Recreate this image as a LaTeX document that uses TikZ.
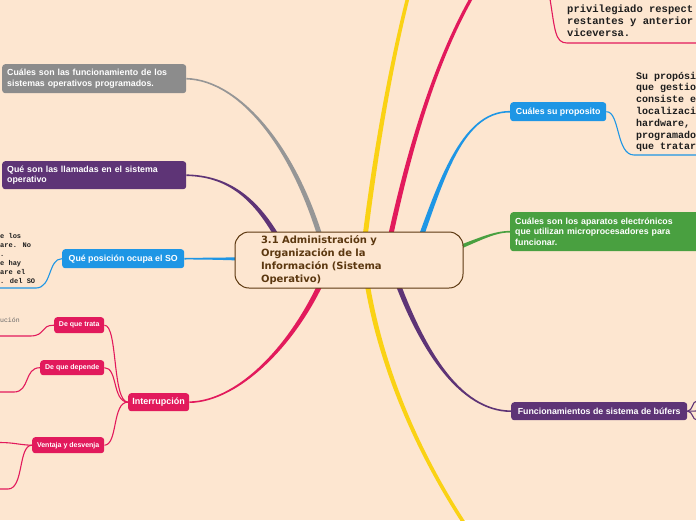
\documentclass[tikz,border=0pt]{standalone}
\usepackage{fontspec}
\setmainfont{Liberation Sans}
\newfontfamily\hubfont{DejaVu Sans}
\newfontfamily\monof{Liberation Mono}
\usetikzlibrary{calc}
\definecolor{bgc}{RGB}{253,230,208}
\definecolor{grayc}{RGB}{140,140,140}
\definecolor{graylc}{RGB}{150,150,150}
\definecolor{purc}{RGB}{94,52,118}
\definecolor{bluec}{RGB}{30,150,229}
\definecolor{pinkc}{RGB}{226,26,92}
\definecolor{greenc}{RGB}{73,160,64}
\definecolor{yelc}{RGB}{250,210,20}
\definecolor{brownc}{RGB}{92,56,16}
\definecolor{txtc}{RGB}{30,30,30}
\pgfdeclarelayer{lines}
\pgfsetlayers{lines,main}
% tapered branch: #1 colour, #2 start, #3 ctrl1, #4 ctrl2, #5 end, #6 start half width, #7 end half width
\newcommand\branchshape[7]{%
  \fill[#1] ($(#2)!#6!90:(#3)$) .. controls ($(#3)!#6!-90:(#2)$) and ($(#4)!#7!90:(#5)$) .. ($(#5)!#7!-90:(#4)$)
    -- ($(#5)!#7!90:(#4)$) .. controls ($(#4)!#7!-90:(#5)$) and ($(#3)!#6!90:(#2)$) .. ($(#2)!#6!-90:(#3)$) -- cycle;}
\begin{document}
\begin{tikzpicture}[x=1pt,y=-1pt,
  box/.style={draw=none, rounded corners=3pt, anchor=north west, inner xsep=5pt, inner ysep=0pt,
    text=white, font=\fontsize{8.8}{10.8}\selectfont\bfseries, align=left},
  obox/.style={draw=none, rounded corners=3pt, anchor=north west, inner xsep=0pt, inner ysep=0pt,
    text=white, font=\fontsize{8.8}{10.8}\selectfont\bfseries, align=center},
  sbox/.style={obox, font=\fontsize{7}{8}\selectfont\bfseries},
  thinl/.style={line width=1.1pt},
  monor/.style={font=\monof\bfseries\fontsize{10}{12}\selectfont, anchor=base west, inner sep=0pt, text=txtc},
  monot/.style={font=\monof\bfseries\fontsize{10.5}{12}\selectfont, anchor=base west, inner sep=0pt, text=txtc},
  monol/.style={font=\monof\bfseries\fontsize{7}{9}\selectfont, anchor=base west, inner sep=0pt, text=txtc},
]
\useasboundingbox (0,0) rectangle (696,520);

% ---------- nodes ----------
\node[draw=brownc, line width=1pt, fill=bgc, rounded corners=14pt, text=brownc,
  font=\hubfont\bfseries\fontsize{10}{12.7}\selectfont, text width=176pt, inner xsep=26pt,
  inner ysep=0pt, minimum height=56pt, align=left] (hub) at (349,260)
  {3.1 Administración y\\Organización de la\\Información (Sistema\\Operativo)};

\node[box, fill=grayc, text width=174pt, minimum height=29pt] (gray) at (2,64)
  {Cuáles son las funcionamiento de los\\sistemas operativos programados.};
\node[box, fill=purc, text width=174pt, minimum height=28pt] (llam) at (2,161)
  {Qué son las llamadas en el sistema\\operativo};
\node[obox, fill=bluec, minimum width=122pt, minimum height=19pt] (pos) at (62,249)
  {Qué posición ocupa el SO};
\node[obox, fill=pinkc, font=\fontsize{9}{10.8}\selectfont\bfseries, minimum width=61pt, minimum height=18pt] (intr) at (128,393)
  {Interrupción};
\node[sbox, fill=pinkc, minimum width=50pt, minimum height=16pt] (trata) at (54,317) {De que trata};
\node[sbox, fill=pinkc, minimum width=64pt, minimum height=15pt] (dep) at (40,360) {De que depende};
\node[sbox, fill=pinkc, minimum width=72pt, minimum height=16pt] (vent) at (32,437) {Ventaja y desvenja};

\node[obox, fill=bluec, minimum width=96pt, minimum height=19pt] (prop) at (510,102) {Cuáles su proposito};
\node[box, fill=greenc, text width=180pt, minimum height=39pt] (green) at (510,212)
  {Cuáles son los aparatos electrónicos\\que utilizan microprocesadores para\\funcionar.};
\node[obox, fill=purc, minimum width=176pt, minimum height=18pt] (buf) at (511,402)
  {Funcionamientos de sistema de búfers};

% text fragments
\node[monot] (tr1) at (567,12.5) {privilegiado respect};
\node[monot] (tr2) at (567,24.5) {restantes y anterior};
\node[monot] (tr3) at (567,36.5) {viceversa.};

\node[monor] (sp1) at (636,79) {Su propósi};
\node[monor] (sp2) at (636,90.8) {que gestio};
\node[monor] (sp3) at (636,102.6) {consiste e};
\node[monor] (sp4) at (636,114.4) {localizaci};
\node[monor] (sp5) at (636,126.2) {hardware,};
\node[monor] (sp6) at (636,138) {programado};
\node[monor] (sp7) at (636,149.8) {que tratar};

\node[monol] (lp1) at (0,238.5) {e los};
\node[monol] (lp2) at (0,247.5) {are. No};
\node[monol] (lp3) at (0,256.5) {.};
\node[monol] (lp4) at (0,265.5) {e hay};
\node[monol] (lp5) at (0,274.5) {are el};
\node[monol] (lp6) at (0,283.5) {. del SO};

\node[font=\monof\fontsize{6.5}{8}\selectfont, anchor=base west, inner sep=0pt, text=black!60] (luc) at (0,322) {ución};

% ---------- connectors ----------
\begin{pgfonlayer}{lines}
\fill[bgc] (0,0) rectangle (696,520);
\begin{scope}
\clip (0,0) rectangle (696,520);
% main branches
\coordinate (gA) at (328,265); \coordinate (g1) at (300,150); \coordinate (g2) at (240,80);
\branchshape{graylc}{gA}{g1}{g2}{gray.east}{2.6pt}{0.8pt}
\coordinate (pA) at (290,262); \coordinate (p1) at (262,200); \coordinate (p2) at (230,176);
\branchshape{purc}{pA}{p1}{p2}{llam.east}{2.6pt}{0.8pt}
\coordinate (bA) at (300,260); \coordinate (b1) at (250,259); \coordinate (b2) at (220,258.5);
\branchshape{bluec}{bA}{b1}{b2}{pos.east}{2.2pt}{0.8pt}
\coordinate (kA) at (330,262); \coordinate (k1) at (300,340); \coordinate (k2) at (240,401.5);
\branchshape{pinkc}{kA}{k1}{k2}{intr.east}{2.6pt}{0.8pt}
\coordinate (yA) at (362,262); \coordinate (y1) at (375,150); \coordinate (y2) at (392,60); \coordinate (yE) at (408,-3);
\branchshape{yelc}{yA}{y1}{y2}{yE}{2.5pt}{1.8pt}
\coordinate (rA) at (385,262); \coordinate (r1) at (400,190); \coordinate (r2) at (425,80); \coordinate (rE) at (472,-3);
\branchshape{pinkc}{rA}{r1}{r2}{rE}{2.5pt}{1.6pt}
\coordinate (cA) at (412,262); \coordinate (c1) at (440,185); \coordinate (c2) at (460,111.5);
\branchshape{bluec}{cA}{c1}{c2}{prop.west}{2.6pt}{0.8pt}
\coordinate (eA) at (430,258); \coordinate (e1) at (470,245); \coordinate (e2) at (490,231.5);
\branchshape{greenc}{eA}{e1}{e2}{green.west}{2.2pt}{0.8pt}
\coordinate (qA) at (390,262); \coordinate (q1) at (420,350); \coordinate (q2) at (460,411);
\branchshape{purc}{qA}{q1}{q2}{buf.west}{2.6pt}{0.8pt}
\coordinate (zA) at (364,262); \coordinate (z1) at (375,350); \coordinate (z2) at (410,440); \coordinate (zE) at (464,523);
\branchshape{yelc}{zA}{z1}{z2}{zE}{2.5pt}{1.8pt}

% sub branches of Interrupcion
\draw[pinkc, thinl] (trata.east) .. controls (118,325) and (112,401.5) .. (intr.west);
\draw[pinkc, thinl] (dep.east) .. controls (118,367.5) and (112,401.5) .. (intr.west);
\draw[pinkc, thinl] (vent.east) .. controls (118,445) and (112,401.5) .. (intr.west);

% free ends to off-canvas texts
\coordinate (t1) at (0,336); \coordinate (t2) at (0,392); \coordinate (t3) at (0,442.5); \coordinate (t4) at (0,489);
\draw[pinkc, thinl] (trata.west) .. controls (40,325) and (46,336) .. (30,336) -- (t1);
\draw[pinkc, thinl] (dep.west) .. controls (24,367.5) and (30,392) .. (14,392) -- (t2);
\draw[pinkc, thinl] (vent.west) .. controls (20,445) and (14,442.5) .. (t3);
\draw[pinkc, thinl] (vent.west) .. controls (18,445) and (24,489) .. (8,489) -- (t4);

\coordinate (lb) at (0,288);
\draw[bluec, thinl] (pos.west) .. controls (48,258.5) and (52,288) .. (36,288) -- (lb);
\coordinate (rb) at (697,155);
\draw[bluec, thinl] (prop.east) .. controls (620,111.5) and (616,155) .. (634,155) -- (rb);
\coordinate (tb0) at (550,-1); \coordinate (tb1) at (697,43);
\draw[pinkc, thinl] (tb0) .. controls (555,30) and (555,43) .. (567,43) -- (tb1);

\coordinate (f1) at (697,401); \coordinate (f2) at (697,411); \coordinate (f3) at (697,420);
\draw[purc, thinl] (buf.east) .. controls (693,411) and (692,401) .. (f1);
\draw[purc, thinl] (buf.east) -- (f2);
\draw[purc, thinl] (buf.east) .. controls (693,411) and (692,420) .. (f3);
\end{scope}
\end{pgfonlayer}
\end{tikzpicture}
\end{document}
